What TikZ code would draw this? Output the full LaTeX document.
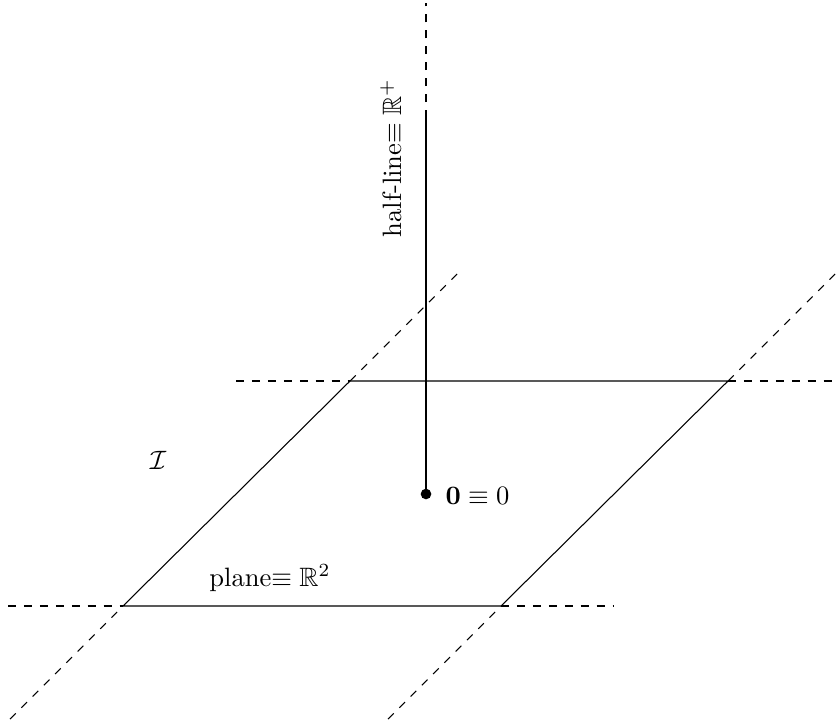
\documentclass[tikz,border=0pt]{standalone}
\usepackage{amsmath,amssymb}
\begin{document}
\begin{tikzpicture}[x=0.013228cm,y=-0.013228cm,
  solidline/.style={line width=0.4pt},
  dashline/.style={dashed,line width=0.4pt},
  lbl/.style={inner sep=0pt}]
\useasboundingbox (0,0) rectangle (837,722);
% corners
\coordinate (bl) at (123,606);
\coordinate (br) at (501,606);
\coordinate (tl) at (350,381);
\coordinate (tr) at (728,381);
% extension ends
\coordinate (bhl) at (8,606);
\coordinate (bhr) at (614,606);
\coordinate (thl) at (236,381);
\coordinate (thr) at (835,381);
\coordinate (ldl) at (10,719);
\coordinate (ldu) at (458,273);
\coordinate (rdl) at (388,719);
\coordinate (rdu) at (836,273);
% vertical
\coordinate (orig) at (426,494);
\coordinate (vmid) at (426,118);
\coordinate (vtop) at (426,3);
% plane
\draw[solidline] (bl) -- (br) -- (tr) -- (tl) -- cycle;
\draw[dashline] (bhl) -- (bl);
\draw[dashline] (br) -- (bhr);
\draw[dashline] (thl) -- (tl);
\draw[dashline] (tr) -- (thr);
\draw[dashline] (ldl) -- (bl);
\draw[dashline] (tl) -- (ldu);
\draw[dashline] (rdl) -- (br);
\draw[dashline] (tr) -- (rdu);
% half-line
\draw[solidline] (orig) -- (vmid);
\draw[dashline] (vmid) -- (vtop);
\fill (orig) circle (2pt);
% labels
\node[lbl, rotate=90] (hl) at (391,158) {half-line$\equiv\mathbb{R}^{+}$};
\node[lbl] (ii) at (158,460) {$\mathcal{I}$};
\node[lbl, anchor=west] (zero) at (445,496) {$\mathbf{0}\equiv 0$};
\node[lbl] (pl) at (270,578) {plane$\equiv\mathbb{R}^{2}$};
\end{tikzpicture}
\end{document}
